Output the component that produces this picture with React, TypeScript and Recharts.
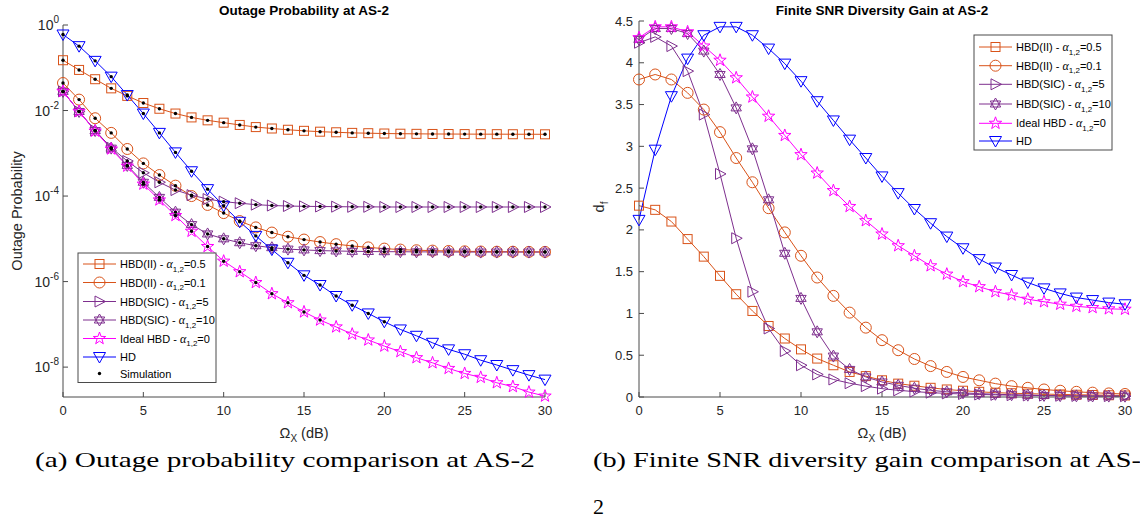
import React from "react"
import { ComposedChart, Line, Scatter, XAxis, YAxis } from "recharts"

const FONT = "'Liberation Sans', Arial, sans-serif"
const SERIF = "'Liberation Serif', 'DejaVu Serif', serif"

// Omega_X in dB
const snrDb = [0, 1, 2, 3, 4, 5, 6, 7, 8, 9, 10, 11, 12, 13, 14, 15, 16, 17, 18, 19, 20, 21, 22, 23, 24, 25, 26, 27, 28, 29, 30]

// outage probability (left panel)
const opHbdII05 = [1.5e-1, 8.9e-2, 5.4e-2, 3.3e-2, 2.2e-2, 1.5e-2, 1.1e-2, 8.5e-3, 6.9e-3, 5.9e-3, 5.2e-3, 4.6e-3, 4.1e-3, 3.8e-3, 3.55e-3, 3.35e-3, 3.2e-3, 3.1e-3, 3.0e-3, 2.95e-3, 2.9e-3, 2.87e-3, 2.85e-3, 2.83e-3, 2.82e-3, 2.81e-3, 2.8e-3, 2.8e-3, 2.79e-3, 2.79e-3, 2.78e-3]
const opHbdII01 = [4.4e-2, 1.8e-2, 6.6e-3, 3.0e-3, 1.26e-3, 5.8e-4, 3.1e-4, 1.75e-4, 1.0e-4, 6.2e-5, 4.0e-5, 2.6e-5, 1.85e-5, 1.4e-5, 1.12e-5, 9.6e-6, 8.4e-6, 7.5e-6, 6.8e-6, 6.3e-6, 5.9e-6, 5.6e-6, 5.4e-6, 5.3e-6, 5.2e-6, 5.1e-6, 5.05e-6, 5.0e-6, 5.0e-6, 4.95e-6, 4.95e-6]
const opHbdSic5 = [2.8e-2, 9.5e-3, 3.4e-3, 1.35e-3, 6.6e-4, 3.5e-4, 2.1e-4, 1.38e-4, 1.05e-4, 8.5e-5, 7.4e-5, 6.8e-5, 6.3e-5, 6.0e-5, 5.85e-5, 5.75e-5, 5.7e-5, 5.65e-5, 5.6e-5, 5.6e-5, 5.55e-5, 5.55e-5, 5.55e-5, 5.55e-5, 5.55e-5, 5.55e-5, 5.55e-5, 5.55e-5, 5.55e-5, 5.55e-5, 5.55e-5]
const opHbdSic10 = [2.8e-2, 9.5e-3, 3.4e-3, 1.32e-3, 5.2e-4, 2.1e-4, 9.3e-5, 4.2e-5, 2.15e-5, 1.3e-5, 1.0e-5, 8.1e-6, 6.9e-6, 6.2e-6, 5.75e-6, 5.5e-6, 5.3e-6, 5.2e-6, 5.1e-6, 5.05e-6, 5.0e-6, 5.0e-6, 4.95e-6, 4.95e-6, 4.9e-6, 4.9e-6, 4.9e-6, 4.9e-6, 4.9e-6, 4.9e-6, 4.9e-6]
const opIdeal = [2.8e-2, 9.5e-3, 3.3e-3, 1.26e-3, 5.0e-4, 1.9e-4, 8.1e-5, 3.5e-5, 1.5e-5, 6.6e-6, 3.0e-6, 1.7e-6, 9.5e-7, 5.2e-7, 3.2e-7, 1.95e-7, 1.26e-7, 8.7e-8, 5.9e-8, 4.3e-8, 3.1e-8, 2.3e-8, 1.66e-8, 1.26e-8, 9.3e-9, 7.1e-9, 5.75e-9, 4.3e-9, 3.5e-9, 2.6e-9, 2.1e-9]
const opHd = [6.0e-1, 3.2e-1, 1.45e-1, 6.2e-2, 2.3e-2, 8.5e-3, 3.0e-3, 1.05e-3, 3.8e-4, 1.45e-4, 5.9e-5, 2.5e-5, 1.17e-5, 5.6e-6, 2.75e-6, 1.4e-6, 8.3e-7, 4.6e-7, 2.8e-7, 1.8e-7, 1.15e-7, 7.6e-8, 5.4e-8, 3.7e-8, 2.6e-8, 2.0e-8, 1.45e-8, 1.12e-8, 8.5e-9, 6.5e-9, 5.1e-9]

// finite SNR diversity gain (right panel)
const dgHbdII05 = [2.29, 2.24, 2.1, 1.89, 1.68, 1.45, 1.23, 1.03, 0.85, 0.7, 0.57, 0.46, 0.38, 0.3, 0.25, 0.2, 0.16, 0.135, 0.11, 0.09, 0.075, 0.062, 0.052, 0.045, 0.04, 0.035, 0.031, 0.027, 0.024, 0.021, 0.018]
const dgHbdII01 = [3.8, 3.86, 3.8, 3.64, 3.44, 3.17, 2.86, 2.57, 2.26, 1.97, 1.69, 1.43, 1.21, 1.01, 0.83, 0.68, 0.56, 0.455, 0.37, 0.3, 0.24, 0.2, 0.16, 0.13, 0.11, 0.09, 0.075, 0.062, 0.052, 0.043, 0.036]
const dgHbdSic5 = [4.24, 4.31, 4.2, 3.9, 3.38, 2.67, 1.9, 1.26, 0.82, 0.55, 0.38, 0.27, 0.21, 0.165, 0.13, 0.1, 0.08, 0.065, 0.052, 0.043, 0.036, 0.03, 0.026, 0.022, 0.019, 0.017, 0.015, 0.013, 0.012, 0.011, 0.01]
const dgHbdSic10 = [4.28, 4.41, 4.41, 4.35, 4.14, 3.86, 3.46, 2.97, 2.36, 1.72, 1.18, 0.78, 0.49, 0.33, 0.24, 0.18, 0.14, 0.105, 0.08, 0.062, 0.05, 0.04, 0.033, 0.027, 0.022, 0.019, 0.016, 0.014, 0.012, 0.011, 0.01]
const dgIdeal = [4.3, 4.43, 4.43, 4.37, 4.2, 4.03, 3.82, 3.59, 3.36, 3.13, 2.9, 2.68, 2.47, 2.28, 2.11, 1.95, 1.81, 1.69, 1.57, 1.47, 1.38, 1.32, 1.26, 1.22, 1.17, 1.14, 1.11, 1.085, 1.07, 1.055, 1.05]
const dgHd = [2.12, 2.96, 3.6, 4.05, 4.33, 4.43, 4.43, 4.33, 4.17, 3.99, 3.78, 3.54, 3.31, 3.08, 2.86, 2.64, 2.44, 2.25, 2.08, 1.92, 1.78, 1.65, 1.55, 1.46, 1.37, 1.3, 1.24, 1.19, 1.16, 1.13, 1.11]

const xTicks = [0, 5, 10, 15, 20, 25, 30]
const opTicks = [1e-8, 1e-6, 1e-4, 1e-2, 1]
const dgTicks = [0, 0.5, 1, 1.5, 2, 2.5, 3, 3.5, 4, 4.5]
// simulation points only reach down to about 1e-7
const SIM_FLOOR = 1e-7

const ORANGE = "#D95319"
const PURPLE = "#7E2F8E"
const MAGENTA = "#FF00FF"
const BLUE = "#0000FF"
const AXIS = "#4a4a4a"
const TEXT = "#262626"

type Shape = "square" | "circle" | "right" | "hexagram" | "pentagram" | "down"

const seriesDefs = [
  { key: "ii05", label: "HBD(II) - ", val: "=0.5", color: ORANGE, shape: "square" as Shape, op: opHbdII05, dg: dgHbdII05 },
  { key: "ii01", label: "HBD(II) - ", val: "=0.1", color: ORANGE, shape: "circle" as Shape, op: opHbdII01, dg: dgHbdII01 },
  { key: "sic5", label: "HBD(SIC) - ", val: "=5", color: PURPLE, shape: "right" as Shape, op: opHbdSic5, dg: dgHbdSic5 },
  { key: "sic10", label: "HBD(SIC) - ", val: "=10", color: PURPLE, shape: "hexagram" as Shape, op: opHbdSic10, dg: dgHbdSic10 },
  { key: "ideal", label: "Ideal HBD - ", val: "=0", color: MAGENTA, shape: "pentagram" as Shape, op: opIdeal, dg: dgIdeal },
  { key: "hd", label: "HD", val: "", color: BLUE, shape: "down" as Shape, op: opHd, dg: dgHd },
]

const opRows = snrDb.map((x, i) => {
  const r: Record<string, number> = { x }
  seriesDefs.forEach((s) => (r[s.key] = s.op[i]))
  return r
})
const dgRows = snrDb.map((x, i) => {
  const r: Record<string, number> = { x }
  seriesDefs.forEach((s) => (r[s.key] = s.dg[i]))
  return r
})
const simPoints = seriesDefs.flatMap((s) =>
  snrDb.map((x, i) => ({ x, y: s.op[i] })).filter((p) => p.y >= SIM_FLOOR)
)

function starPoints(cx: number, cy: number, n: number, ro: number, ri: number, rot = -90) {
  const pts: string[] = []
  for (let i = 0; i < n * 2; i++) {
    const a = ((rot + (i * 180) / n) * Math.PI) / 180
    const r = i % 2 === 0 ? ro : ri
    pts.push(`${cx + r * Math.cos(a)},${cy + r * Math.sin(a)}`)
  }
  return pts.join(" ")
}

function Marker({ shape, cx, cy, color }: { shape: Shape; cx: number; cy: number; color: string }) {
  const common = { fill: "none", stroke: color, strokeWidth: 1 }
  switch (shape) {
    case "square":
      return <rect x={cx - 4.5} y={cy - 4.5} width={9} height={9} {...common} />
    case "circle":
      return <circle cx={cx} cy={cy} r={5.5} {...common} />
    case "right":
      return <polygon points={`${cx - 4.5},${cy - 5.5} ${cx + 6},${cy} ${cx - 4.5},${cy + 5.5}`} {...common} />
    case "down":
      return <polygon points={`${cx - 6},${cy - 4.5} ${cx + 6},${cy - 4.5} ${cx},${cy + 6}`} {...common} />
    case "pentagram":
      return <polygon points={starPoints(cx, cy, 5, 6.5, 2.6)} {...common} />
    case "hexagram":
      return (
        <g {...common}>
          <polygon points={`${cx},${cy - 6} ${cx + 5.2},${cy + 3} ${cx - 5.2},${cy + 3}`} />
          <polygon points={`${cx},${cy + 6} ${cx + 5.2},${cy - 3} ${cx - 5.2},${cy - 3}`} />
        </g>
      )
  }
  return null
}

const tickStyle = { fontFamily: FONT, fontSize: 13, fill: TEXT }
const blankTick = () => <g />
// right edge of the 10^n labels, just left of the left axis (at 63)
const POW_LABEL_RIGHT = 59

function PowTick(props: any) {
  const { y, payload } = props
  const e = Math.round(Math.log10(payload.value))
  return (
    <text x={POW_LABEL_RIGHT} y={y + 5} textAnchor="end" style={{ ...tickStyle, fontSize: 14 }}>
      10<tspan dy={-7} fontSize={10}>{e}</tspan>
    </text>
  )
}

function NumTick(props: any) {
  const { x, y, payload, anchor } = props
  return (
    <text x={x} y={y} dy={anchor === "end" ? 4.5 : 9} textAnchor={anchor} style={tickStyle}>
      {payload.value}
    </text>
  )
}

function renderLines(log: boolean) {
  return seriesDefs.map((s) => (
    <Line
      key={s.key}
      dataKey={s.key}
      stroke={s.color}
      strokeWidth={1}
      isAnimationActive={false}
      activeDot={false}
      dot={(p: any) => <Marker key={`${s.key}-${log ? "op" : "dg"}-${p.index}`} shape={s.shape} cx={p.cx} cy={p.cy} color={s.color} />}
    />
  ))
}

function OutageChart() {
  return (
    <ComposedChart width={570} height={440} data={opRows} margin={{ top: 25, right: 25, bottom: 13, left: 0 }}>
      <XAxis dataKey="x" type="number" domain={[0, 30]} ticks={xTicks} height={30} tickSize={-5} tickMargin={14}
        axisLine={{ stroke: AXIS }} tickLine={{ stroke: AXIS }} tick={<NumTick anchor="middle" />} />
      <XAxis xAxisId="top" orientation="top" dataKey="x" type="number" domain={[0, 30]} ticks={xTicks} height={0} tickSize={-5}
        axisLine={{ stroke: AXIS }} tickLine={{ stroke: AXIS }} tick={blankTick} />
      <YAxis scale="log" type="number" domain={[2e-9, 1]} ticks={opTicks} width={63} tickSize={-5} tickMargin={10}
        axisLine={{ stroke: AXIS }} tickLine={{ stroke: AXIS }} tick={<PowTick />} />
      <YAxis yAxisId="r" orientation="right" scale="log" type="number" domain={[2e-9, 1]} ticks={opTicks} width={0} tickSize={-5}
        axisLine={{ stroke: AXIS }} tickLine={{ stroke: AXIS }} tick={blankTick} />
      {renderLines(true)}
      <Scatter data={simPoints} dataKey="y" isAnimationActive={false}
        shape={(p: any) => <circle cx={p.cx} cy={p.cy} r={1.7} fill="#000" />} />
    </ComposedChart>
  )
}

function GainChart() {
  return (
    <ComposedChart width={570} height={440} data={dgRows} margin={{ top: 21, right: 15, bottom: 13, left: 0 }}>
      <XAxis dataKey="x" type="number" domain={[0, 30]} ticks={xTicks} height={30} tickSize={-5} tickMargin={14}
        axisLine={{ stroke: AXIS }} tickLine={{ stroke: AXIS }} tick={<NumTick anchor="middle" />} />
      <XAxis xAxisId="top" orientation="top" dataKey="x" type="number" domain={[0, 30]} ticks={xTicks} height={0} tickSize={-5}
        axisLine={{ stroke: AXIS }} tickLine={{ stroke: AXIS }} tick={blankTick} />
      <YAxis type="number" domain={[0, 4.5]} ticks={dgTicks} width={69} tickSize={-5} tickMargin={11}
        axisLine={{ stroke: AXIS }} tickLine={{ stroke: AXIS }} tick={<NumTick anchor="end" />} />
      <YAxis yAxisId="r" orientation="right" type="number" domain={[0, 4.5]} ticks={dgTicks} width={0} tickSize={-5}
        axisLine={{ stroke: AXIS }} tickLine={{ stroke: AXIS }} tick={blankTick} />
      {renderLines(false)}
    </ComposedChart>
  )
}

function Legend({ x, y, w, rows, withSim }: { x: number; y: number; w: number; rows: number[]; withSim: boolean }) {
  const h = rows[rows.length - 1] + 9
  return (
    <g>
      <rect x={x} y={y} width={w} height={h} fill="#fff" stroke={AXIS} strokeWidth={1} />
      {seriesDefs.map((s, i) => {
        const cy = y + rows[i]
        return (
          <g key={s.key}>
            <line x1={x + 5} x2={x + 38} y1={cy} y2={cy} stroke={s.color} strokeWidth={1} />
            <Marker shape={s.shape} cx={x + 21.5} cy={cy} color={s.color} />
            <text x={x + 42} y={cy + 4} style={{ fontFamily: FONT, fontSize: 11, fill: "#000" }}>
              {s.label}
              {s.val && (
                <>
                  <tspan fontFamily={SERIF} fontStyle="italic" fontSize={12}>α</tspan>
                  <tspan dy={3.5} fontSize={8}>1,2</tspan>
                  <tspan dy={-3.5}>{s.val}</tspan>
                </>
              )}
            </text>
          </g>
        )
      })}
      {withSim && (
        <g>
          <circle cx={x + 21.5} cy={y + rows[6]} r={1.7} fill="#000" />
          <text x={x + 42} y={y + rows[6] + 4} style={{ fontFamily: FONT, fontSize: 11, fill: "#000" }}>Simulation</text>
        </g>
      )}
    </g>
  )
}

function Overlay() {
  const title = { fontFamily: FONT, fontSize: 13.5, fontWeight: 700, fill: "#000" }
  const label = { fontFamily: FONT, fontSize: 14.5, fill: TEXT }
  return (
    <svg width={1140} height={520} style={{ position: "absolute", left: 0, top: 0, pointerEvents: "none" }}>
      <text x={304} y={15} textAnchor="middle" style={title}>Outage Probability at AS-2</text>
      <text x={882} y={15} textAnchor="middle" style={title}>Finite SNR Diversity Gain at AS-2</text>

      <text x={304} y={438} textAnchor="middle" style={label}>
        Ω<tspan dy={4} fontSize={10}>X</tspan><tspan dy={-4}> (dB)</tspan>
      </text>
      <text x={882} y={438} textAnchor="middle" style={label}>
        Ω<tspan dy={4} fontSize={10}>X</tspan><tspan dy={-4}> (dB)</tspan>
      </text>

      <text transform="translate(22,211) rotate(-90)" textAnchor="middle" style={label}>Outage Probability</text>
      <text transform="translate(604,207) rotate(-90)" textAnchor="middle" style={label}>
        d<tspan dy={4} fontSize={10}>f</tspan>
      </text>

      <Legend x={78} y={253} w={138} rows={[11, 29.5, 48.5, 67, 85.5, 104, 120.5]} withSim={true} />
      <Legend x={974} y={35} w={138} rows={[12, 30.7, 49.3, 69, 88.3, 106]} withSim={false} />

      <text x={35} y={467} textLength={500} lengthAdjust="spacingAndGlyphs" style={{ fontFamily: SERIF, fontSize: 22, fill: "#000" }}>
        (a) Outage probability comparison at AS-2
      </text>
      <text x={593} y={467} textLength={548} lengthAdjust="spacingAndGlyphs" style={{ fontFamily: SERIF, fontSize: 22, fill: "#000" }}>
        (b) Finite SNR diversity gain comparison at AS-
      </text>
      <text x={593} y={514} style={{ fontFamily: SERIF, fontSize: 22, fill: "#000" }}>2</text>
    </svg>
  )
}

export default function App() {
  return (
    <div style={{ position: "absolute", left: 0, top: 0, width: 1140, height: 520, background: "#fff", overflow: "hidden" }}>
      <div style={{ position: "absolute", left: 0, top: 0 }}>
        <OutageChart />
      </div>
      <div style={{ position: "absolute", left: 570, top: 0 }}>
        <GainChart />
      </div>
      <Overlay />
    </div>
  )
}
